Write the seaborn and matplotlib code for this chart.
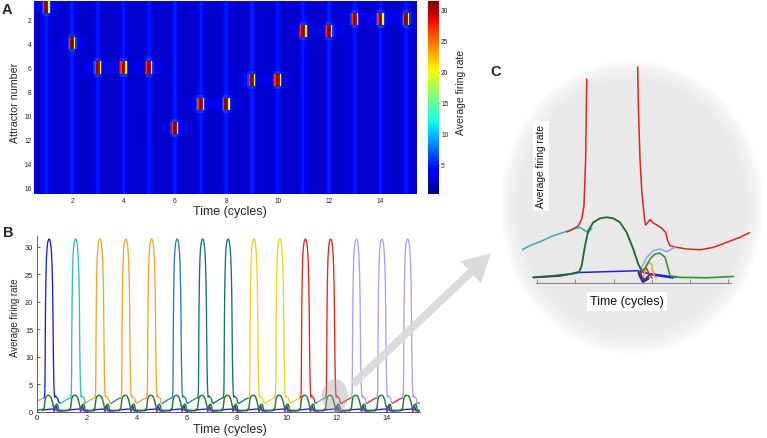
import numpy as np
import pandas as pd
import matplotlib
matplotlib.use("Agg")
import matplotlib.pyplot as plt
import seaborn as sns
from matplotlib.patches import Ellipse, FancyArrow

sns.set_theme(style="white")
plt.rcParams['font.family'] = ['Liberation Sans', 'DejaVu Sans']

# ---------------- Panel A data (attractor heat map) ----------------
n_attractors = 16
blob_times = [1, 2, 3, 4, 5, 6, 7, 8, 9, 10, 11, 12, 13, 14, 15]
blob_rows = [1, 4, 6, 6, 6, 11, 9, 9, 7, 7, 3, 3, 2, 2, 2]
stripe_times = [1, 2, 3, 4, 5, 6, 7, 8, 9, 10, 11, 12, 13, 14, 15]
stripe_dt = [-0.15, -0.10, -0.05, 0.0, 0.05, 0.10, 0.15]
stripe_val = [2.9, 3.7, 4.6, 5.2, 4.6, 3.7, 2.9]
blob_dt = [-0.15, -0.10, -0.05, 0.0, 0.05, 0.10, 0.15]
blob_core = [6.0, 27.0, 30.5, 31.4, 29.5, 19.5, 6.0]
blob_halo = [4.4, 5.4, 6.0, 6.0, 5.8, 5.2, 4.4]
background_val = 2.4
band_val = 3.2
band_half = 0.5
A_t_start, A_t_end, A_dt = 0.55, 15.40, 0.05
A_xticks = [2, 4, 6, 8, 10, 12, 14]
A_yticks = [2, 4, 6, 8, 10, 12, 14, 16]
cbar_ticks = [5, 10, 15, 20, 25, 30]
vmin, vmax = 0.24, 31.4

# ---------------- Panel B data (firing-rate traces) ----------------
peak_times = [0.50, 1.56, 2.53, 3.57, 4.60, 5.62, 6.64, 7.66, 8.69, 9.73,
              10.75, 11.76, 12.79, 13.81, 14.84]
BLUE, CYAN, ORANGE, STEEL = '#1c1cd6', '#2cbfbf', '#f6a431', '#2a7ab8'
TEAL, YELLOW, RED, LAV = '#15706c', '#f2d11c', '#e62222', '#a3a3f2'
peak_colors = [BLUE, CYAN, ORANGE, ORANGE, ORANGE, STEEL, TEAL, TEAL,
               YELLOW, YELLOW, RED, RED, LAV, LAV, LAV]
ramp_colors = [LAV, CYAN, ORANGE, STEEL, ORANGE, STEEL, STEEL, TEAL,
               TEAL, YELLOW, YELLOW, CYAN, RED, RED, RED]
spike_dt = [-0.21, -0.19, -0.175, -0.168, -0.162, -0.155, -0.145, -0.13, -0.11,
            -0.085, -0.055, -0.025, 0.0, 0.03, 0.06, 0.09, 0.115, 0.135, 0.15,
            0.16, 0.168, 0.175, 0.185, 0.195, 0.21, 0.22, 0.25, 0.27, 0.29,
            0.325, 0.35, 0.364, 0.38, 0.42]
spike_val = [2.53, 2.7, 3.5, 5.6, 9.3, 15.0, 20.0, 24.5, 28.0,
             29.8, 30.9, 31.3, 31.4, 31.2, 30.5, 29.0, 26.5, 23.0, 18.0,
             13.0, 9.8, 7.9, 5.6, 4.05, 2.91, 2.64, 2.88, 2.73, 2.64,
             2.49, 2.30, 1.92, 1.70, 1.62]
ramp_dt = [-0.64, -0.59, -0.536, -0.47, -0.383, -0.318, -0.253, -0.21]
ramp_val = [1.62, 1.51, 1.70, 1.88, 2.15, 2.30, 2.45, 2.53]
tail_t = [15.18, 15.26, 15.35]
tail_val = [1.62, 1.55, 1.60]
tail_color = '#6f5a96'
green_dt = [-0.27, -0.214, -0.198, -0.176, -0.155, -0.122, -0.078, -0.034, 0.009,
            0.052, 0.096, 0.139, 0.172, 0.194, 0.216, 0.249, 0.281, 0.314,
            0.347, 0.362, 0.379, 0.445, 0.62, 0.76]
green_val = [0.41, 0.51, 0.79, 1.70, 2.38, 2.76, 2.94, 2.99, 2.94,
             2.76, 2.30, 1.55, 0.86, 0.56, 0.64, 1.09, 1.32, 1.36,
             1.17, 0.79, 0.33, 0.26, 0.24, 0.29]
green_lead_t = [0.0, 0.23]
green_lead_val = [0.28, 0.41]
blue_dt = [-0.27, -0.21, 0.17, 0.20, 0.235, 0.27, 0.30, 0.34, 0.40, 0.76]
blue_val = [0.22, 0.35, 0.5, 0.08, 0.9, 1.1, 0.6, 0.15, 0.1, 0.2]
purple_dt = [0.17, 0.205, 0.24, 0.27, 0.30]
purple_val = [0.45, 0.08, 0.35, 0.55, 0.15]
B_xticks = [0, 2, 4, 6, 8, 10, 12, 14]
B_yticks = [0, 5, 10, 15, 20, 25, 30]

# ---------------- Panel C data (magnified view around t ~ 11.8) ----------------
c_cyan_t = [11.150, 11.204, 11.270, 11.357, 11.422, 11.487, 11.531, 11.564, 11.585, 11.608]
c_cyan_y = [1.51, 1.70, 1.88, 2.15, 2.30, 2.45, 2.53, 2.38, 2.30, 2.49]
c_red_up_t = [11.446, 11.466, 11.520, 11.542, 11.557, 11.568, 11.575]
c_red_up_y = [2.32, 2.38, 2.60, 2.91, 3.51, 5.64, 9.27]
c_red_down_t = [11.908, 11.913, 11.923, 11.936, 11.953, 11.960, 11.989, 12.010, 12.032,
                12.065, 12.091, 12.104, 12.119, 12.163, 12.228, 12.315, 12.402,
                12.490, 12.577, 12.643]
c_red_down_y = [9.82, 7.91, 5.64, 4.05, 2.91, 2.64, 2.88, 2.73, 2.64,
                2.49, 2.30, 1.92, 1.70, 1.62, 1.55, 1.51, 1.62,
                1.85, 2.08, 2.30]
c_green_t = [11.226, 11.357, 11.466, 11.526, 11.542, 11.564, 11.585, 11.618, 11.662,
             11.706, 11.749, 11.792, 11.836, 11.879, 11.912, 11.934]
c_green_y = [0.26, 0.33, 0.41, 0.51, 0.79, 1.70, 2.38, 2.76, 2.94,
             2.99, 2.94, 2.76, 2.30, 1.55, 0.86, 0.56]
c_green2_t = [11.934, 11.956, 11.989, 12.021, 12.054, 12.087, 12.102, 12.119,
              12.185, 12.359, 12.533]
c_green2_y = [0.56, 0.64, 1.09, 1.32, 1.36, 1.17, 0.79, 0.33,
              0.26, 0.24, 0.30]
c_lav_t = [11.930, 11.967, 12.010, 12.054, 12.098, 12.130, 12.152]
c_lav_y = [0.64, 1.17, 1.47, 1.55, 1.42, 1.55, 1.62]
c_orange_t = [11.912, 11.941, 11.962, 11.977, 11.999, 12.010, 12.028]
c_orange_y = [0.33, 0.10, 0.82, 0.94, 0.86, 0.41, 0.23]
c_redbump_t = [11.923, 11.943, 11.962, 11.983, 12.001]
c_redbump_y = [0.36, 0.59, 0.71, 0.41, 0.23]
c_blue_t = [11.226, 11.400, 11.526, 11.912, 11.945, 11.989, 12.010, 12.119, 12.163]
c_blue_y = [0.25, 0.32, 0.48, 0.56, 0.10, 0.41, 0.41, 0.30, 0.26]
c_blue2_t = [11.923, 12.008, 12.139]
c_blue2_y = [0.55, 0.36, 0.23]
c_purple_t = [11.918, 11.943, 11.975]
c_purple_y = [0.45, 0.08, 0.22]
C_xticks = [11.25, 11.5, 11.75, 12.0, 12.25, 12.5]

# ---------------- figure ----------------
W, H = 767, 439
fig = plt.figure(figsize=(W / 100, H / 100), dpi=100)
fig.patch.set_facecolor('white')


def rect(x0, y0, x1, y1):
    return [x0 / W, 1 - y1 / H, (x1 - x0) / W, (y1 - y0) / H]


# background overlay (soft grey ellipse of panel C)
bg = fig.add_axes([0, 0, 1, 1], zorder=-1)
bg.set_xlim(0, W); bg.set_ylim(H, 0); bg.axis('off')
for k in range(14):
    s = 1.0 - k * 0.011
    bg.add_patch(Ellipse((632, 208), 264 * s, 294 * s, facecolor=(0.9, 0.9, 0.9),
                         alpha=0.085, lw=0))

# ---------- Panel A ----------
axA = fig.add_axes(rect(34.2, 2.25, 417.1, 195))
cax = fig.add_axes(rect(428, 2.25, 439, 195))
A_t = np.round(np.arange(A_t_start, A_t_end + 1e-9, A_dt), 3)
sub = 4
nrow = n_attractors * sub
M = np.full((nrow, len(A_t)), background_val)


def col_of(t):
    return int(round((t - A_t_start) / A_dt))


for t, r in zip(blob_times, blob_rows):
    r0 = (r - 1) * sub
    for c in range(col_of(t - band_half), col_of(t + band_half) + 1):
        if 0 <= c < len(A_t):
            M[r0:r0 + sub, c] = np.maximum(M[r0:r0 + sub, c], band_val)
for t in stripe_times:
    for d, v in zip(stripe_dt, stripe_val):
        c = col_of(t + d)
        if 0 <= c < len(A_t):
            M[:, c] = np.maximum(M[:, c], v)
for t, r in zip(blob_times, blob_rows):
    r0 = (r - 1) * sub
    for d, vc, vh in zip(blob_dt, blob_core, blob_halo):
        c = col_of(t + d)
        if not (0 <= c < len(A_t)):
            continue
        M[r0:r0 + sub, c] = vc
        if r0 - 1 >= 0:
            M[r0 - 1, c] = max(M[r0 - 1, c], vh)
        if r0 + sub < nrow:
            M[r0 + sub, c] = max(M[r0 + sub, c], vh)

dfA = pd.DataFrame(M, columns=A_t)
sns.heatmap(dfA, ax=axA, cmap='jet', vmin=vmin, vmax=vmax, cbar_ax=cax,
            xticklabels=False, yticklabels=False, rasterized=True)
axA.set_xticks([col_of(t) + 0.5 for t in A_xticks])
axA.set_xticklabels([str(t) for t in A_xticks])
axA.set_yticks([(r - 1) * sub + sub / 2 for r in A_yticks])
axA.set_yticklabels([str(r) for r in A_yticks], rotation=0)
axA.tick_params(axis='both', length=0, labelsize=4.8, colors='#222222')
axA.tick_params(axis='x', pad=2.5)
axA.tick_params(axis='y', pad=2)
axA.set_xlabel('Time (cycles)', fontsize=9)
axA.set_ylabel('Attractor number', fontsize=7.7)
axA.xaxis.set_label_coords((229.5 - 34.2) / 382.9, (195 - 212.5) / 192.75)
axA.xaxis.label.set_va('center')
axA.yaxis.set_label_coords((15 - 34.2) / 382.9, (195 - 103) / 192.75)
axA.yaxis.label.set_va('center')

cbar = axA.collections[0].colorbar
cbar.set_ticks(cbar_ticks)
cbar.ax.tick_params(right=True, labelsize=4.8, length=1.5, width=0.4, pad=1.5,
                    direction='in', colors='#222222')
cbar.outline.set_visible(False)
cbar.set_label('Average firing rate', fontsize=7.5)
cax.yaxis.set_label_coords((461 - 428) / 11, (195 - 92) / 192.75)
cax.yaxis.label.set_va('center')

# ---------- Panel B ----------
axB = fig.add_axes(rect(36.7, 236.7, 420, 412.7))
axB.set_facecolor('none')
lw_b = 0.95


def draw(ax, x, y, color, lw, z=2):
    sns.lineplot(x=np.asarray(x, float), y=np.asarray(y, float), ax=ax, color=color,
                 lw=lw, sort=False, estimator=None, errorbar=None, legend=False, zorder=z)


for tp, rc in zip(peak_times, ramp_colors):
    draw(axB, [tp + d for d in ramp_dt], ramp_val, rc, lw_b, 2)
draw(axB, tail_t, tail_val, tail_color, lw_b, 2)
for tp, pc in zip(peak_times, peak_colors):
    draw(axB, [tp + d for d in spike_dt], spike_val, pc, lw_b, 3)
for tp in peak_times:
    draw(axB, [tp + d for d in blue_dt], blue_val, BLUE, lw_b, 4)
    draw(axB, [tp + d for d in purple_dt], purple_val, '#8a3cc0', lw_b * 0.9, 4)
draw(axB, green_lead_t, green_lead_val, '#237a2c', lw_b * 1.1, 5)
for tp in peak_times:
    draw(axB, [tp + d for d in green_dt], green_val, '#237a2c', lw_b * 1.1, 5)

axB.set_xlim(0, 15.33)
axB.set_ylim(0, 32)
axB.set_xticks(B_xticks)
axB.set_yticks(B_yticks)
axB.set_xticklabels([str(v) for v in B_xticks])
axB.set_yticklabels([str(v) for v in B_yticks])
for s in ['top', 'right']:
    axB.spines[s].set_visible(False)
for s in ['left', 'bottom']:
    axB.spines[s].set_linewidth(0.6)
    axB.spines[s].set_color('#444444')
axB.tick_params(axis='both', bottom=True, left=True, direction='in', length=2,
                width=0.5, labelsize=5.3, colors='#222222')
axB.tick_params(axis='x', pad=1.5)
axB.tick_params(axis='y', pad=2.5)
axB.set_xlabel('Time (cycles)', fontsize=9)
axB.set_ylabel('Average firing rate', fontsize=6.9)
axB.xaxis.set_label_coords((230 - 36.7) / 383.3, (412.7 - 430) / 176)
axB.xaxis.label.set_va('center')
axB.yaxis.set_label_coords((15 - 36.7) / 383.3, (412.7 - 318) / 176)
axB.yaxis.label.set_va('center')

# ---------- Panel C ----------
axC = fig.add_axes(rect(522, 60, 750, 290), zorder=2)
axC.set_facecolor('none')
lw_c = 1.1
draw(axC, c_cyan_t, c_cyan_y, '#2aaeb8', lw_c, 2)
draw(axC, c_red_up_t, c_red_up_y, '#e32222', lw_c, 3)
draw(axC, c_red_down_t, c_red_down_y, '#e32222', lw_c, 3)
draw(axC, c_lav_t, c_lav_y, '#9c9cf0', lw_c, 3)
draw(axC, c_blue_t, c_blue_y, '#2222cc', lw_c, 4)
draw(axC, c_blue2_t, c_blue2_y, '#2222cc', lw_c, 4)
draw(axC, c_orange_t, c_orange_y, '#f5a030', lw_c, 4)
draw(axC, c_redbump_t, c_redbump_y, '#e32222', lw_c, 4)
draw(axC, c_purple_t, c_purple_y, '#4a2a8c', 2.4, 5)
draw(axC, c_green_t, c_green_y, '#1d6b2a', lw_c * 1.2, 6)
draw(axC, c_green2_t, c_green2_y, '#2e9a36', lw_c * 1.1, 6)
axC.set_xlim(11.152, 12.642)
axC.set_ylim(-0.27, 10.18)
axC.set_xticks(C_xticks)
axC.set_xticklabels([])
axC.set_yticks([])
for s in ['top', 'right', 'left']:
    axC.spines[s].set_visible(False)
axC.spines['bottom'].set_position(('data', 0))
axC.spines['bottom'].set_bounds(11.245, 12.515)
axC.spines['bottom'].set_color('#8a8a8a')
axC.spines['bottom'].set_linewidth(0.8)
axC.tick_params(axis='x', bottom=True, direction='in', length=3, width=0.7,
                colors='#8a8a8a')
axC.set_xlabel('')
axC.set_ylabel('')

# ---------- foreground overlay ----------
fg = fig.add_axes([0, 0, 1, 1], zorder=10)
fg.set_xlim(0, W); fg.set_ylim(H, 0); fg.axis('off')
fg.add_patch(Ellipse((335, 397), 26, 34, facecolor='#a89f9f', alpha=0.4, lw=0))
fg.add_patch(FancyArrow(353, 385, 138, -131, width=8, head_width=30, head_length=28,
                        length_includes_head=True, facecolor='#d8d8d8', edgecolor='none',
                        alpha=0.9))
fg.text(541, 167, 'Average firing rate', rotation=90, ha='center', va='center',
        fontsize=7.3, color='#111111',
        bbox=dict(facecolor='white', edgecolor='none', pad=2.5))
fg.text(627, 302, 'Time (cycles)', ha='center', va='center', fontsize=9,
        color='#111111', bbox=dict(facecolor='white', edgecolor='none', pad=2.5))
fg.text(2, 3, 'A', fontsize=10.5, fontweight='bold', ha='left', va='top')
fg.text(2.5, 226, 'B', fontsize=10.5, fontweight='bold', ha='left', va='top')
fg.text(490, 65, 'C', fontsize=10.5, fontweight='bold', ha='left', va='top')

fig.savefig('out.png', dpi=100, facecolor='white')
